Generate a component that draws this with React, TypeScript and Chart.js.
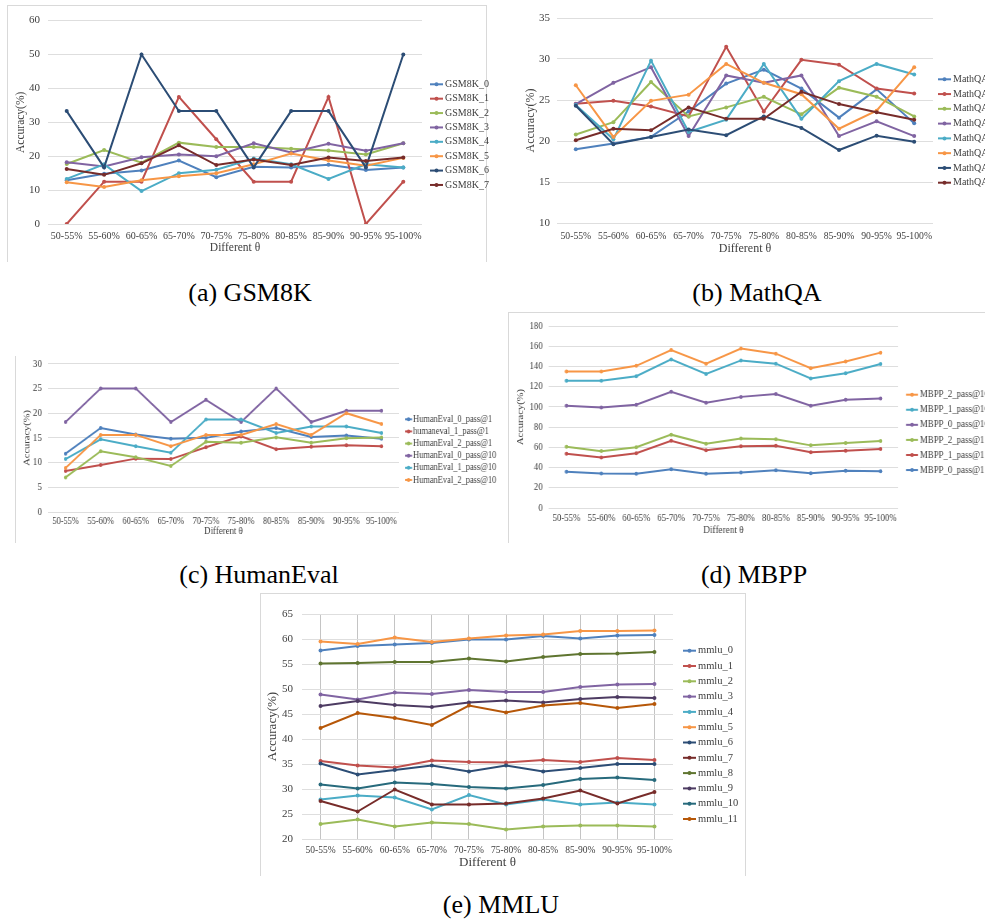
import React, { useEffect, useRef } from 'react';
import { Chart, registerables } from 'chart.js';
Chart.register(...registerables);

const CATEGORIES = ['50-55%', '55-60%', '60-65%', '65-70%', '70-75%', '75-80%', '80-85%', '85-90%', '90-95%', '95-100%'];
const X_TITLE = 'Different θ';
const Y_TITLE = 'Accuracy(%)';

const COLORS = ['#4F81BD', '#C0504D', '#9BBB59', '#8064A2', '#4BACC6', '#F79646', '#2C4D75', '#772C2A', '#5F7530', '#4D3B62', '#276A7C', '#B65708'];

// (a) GSM8K
const GSM8K_LABELS = ['GSM8K_0', 'GSM8K_1', 'GSM8K_2', 'GSM8K_3', 'GSM8K_4', 'GSM8K_5', 'GSM8K_6', 'GSM8K_7'];
const GSM8K_0 = [12.9, 14.8, 15.8, 18.7, 13.8, 16.9, 16.7, 17.5, 15.9, 16.7];
const GSM8K_1 = [0, 12.5, 12.5, 37.5, 25, 12.5, 12.5, 37.5, 0, 12.5];
const GSM8K_2 = [17.7, 21.8, 18.1, 24.0, 22.7, 22.7, 22.2, 21.7, 20.5, 23.8];
const GSM8K_3 = [18.2, 17.0, 19.7, 20.5, 20.0, 23.8, 21.1, 23.7, 21.6, 23.8];
const GSM8K_4 = [13.3, 17.6, 9.7, 15.0, 16.0, 19.3, 17.6, 13.3, 17.6, 16.7];
const GSM8K_5 = [12.3, 10.9, 12.9, 14.1, 15.0, 17.6, 20.8, 18.7, 17.2, 19.5];
const GSM8K_6 = [33.3, 16.7, 50, 33.3, 33.3, 16.7, 33.3, 33.3, 16.7, 50];
const GSM8K_7 = [16.2, 14.5, 17.9, 23.2, 17.4, 19.0, 17.4, 19.6, 18.6, 19.6];
const GSM8K_TICKS = [0, 60, 10];

// (b) MathQA
const MATHQA_LABELS = ['MathQA_0', 'MathQA_1', 'MathQA_2', 'MathQA_3', 'MathQA_4', 'MathQA_5', 'MathQA_6', 'MathQA_7'];
const MATHQA_0 = [19.0, 19.7, 20.5, 23.6, 27.0, 28.7, 26.4, 22.85, 26.3, 22.15];
const MATHQA_1 = [24.55, 24.9, 24.2, 23.0, 31.5, 23.6, 29.9, 29.3, 26.4, 25.8];
const MATHQA_2 = [20.8, 22.3, 27.2, 23.0, 24.1, 25.4, 23.25, 26.5, 25.4, 23.0];
const MATHQA_3 = [24.5, 27.1, 29.0, 20.6, 28.0, 27.1, 28.0, 20.6, 22.4, 20.6];
const MATHQA_4 = [24.4, 20.2, 29.8, 21.1, 22.6, 29.4, 22.7, 27.3, 29.4, 28.1];
const MATHQA_5 = [26.8, 20.5, 24.9, 25.65, 29.4, 27.1, 25.7, 21.5, 23.7, 29.0];
const MATHQA_6 = [24.3, 19.6, 20.5, 21.4, 20.7, 23.0, 21.6, 18.9, 20.65, 19.9];
const MATHQA_7 = [20.1, 21.5, 21.3, 24.1, 22.7, 22.7, 26.0, 24.5, 23.5, 22.6];
const MATHQA_TICKS = [10, 35, 5];

// (c) HumanEval
const HUMANEVAL_LABELS = ['HumanEval_0_pass@1', 'humaneval_1_pass@1', 'HumanEval_2_pass@1', 'HumanEval_0_pass@10', 'HumanEval_1_pass@10', 'HumanEval_2_pass@10'];
const HE_0_P1 = [11.8, 17.0, 15.7, 14.8, 15.0, 16.3, 17.0, 15.2, 15.5, 14.8];
const HE_1_P1 = [8.3, 9.5, 10.8, 10.7, 13.1, 15.3, 12.7, 13.2, 13.5, 13.3];
const HE_2_P1 = [7.0, 12.3, 11.1, 9.3, 14.2, 14.0, 15.1, 14.0, 14.9, 15.1];
const HE_0_P10 = [18.2, 25, 25, 18.2, 22.7, 18.2, 25, 18.2, 20.5, 20.5];
const HE_1_P10 = [10.7, 14.7, 13.3, 12.0, 18.7, 18.7, 16.0, 17.3, 17.3, 16.0];
const HE_2_P10 = [8.9, 15.6, 15.6, 13.3, 15.6, 15.6, 17.8, 15.6, 20.0, 17.8];
const HUMANEVAL_TICKS = [0, 30, 5];

// (d) MBPP (legend order as in the figure)
const MBPP_LABELS = ['MBPP_2_pass@10', 'MBPP_1_pass@10', 'MBPP_0_pass@10', 'MBPP_2_pass@1', 'MBPP_1_pass@1', 'MBPP_0_pass@1'];
const MBPP_2_P10 = [135.2, 135.2, 140.7, 156.3, 142.9, 157.9, 152.8, 138.4, 145.1, 153.8];
const MBPP_1_P10 = [126, 126, 130.4, 147.1, 132.7, 146.1, 142.9, 128.2, 133.3, 142.6];
const MBPP_0_P10 = [101.3, 99.4, 102.3, 115.1, 104.2, 110, 112.9, 101.3, 107.1, 108.4];
const MBPP_2_P1 = [60.7, 56.3, 60.1, 72.6, 63.6, 68.7, 68.1, 62.0, 64.3, 66.2];
const MBPP_1_P1 = [53.7, 49.9, 54.3, 66.5, 57.2, 61.1, 61.7, 55.3, 56.6, 58.5];
const MBPP_0_P1 = [35.8, 34.2, 33.9, 38.4, 33.9, 35.2, 37.4, 34.5, 36.8, 36.4];
const MBPP_TICKS = [0, 180, 20];

// (e) MMLU
const MMLU_LABELS = ['mmlu_0', 'mmlu_1', 'mmlu_2', 'mmlu_3', 'mmlu_4', 'mmlu_5', 'mmlu_6', 'mmlu_7', 'mmlu_8', 'mmlu_9', 'mmlu_10', 'mmlu_11'];
const MMLU_0 = [57.7, 58.6, 58.9, 59.2, 59.9, 59.9, 60.6, 60.1, 60.7, 60.8];
const MMLU_1 = [35.6, 34.7, 34.3, 35.7, 35.4, 35.3, 35.8, 35.4, 36.2, 35.8];
const MMLU_2 = [23.0, 23.9, 22.5, 23.3, 23.0, 21.9, 22.5, 22.7, 22.7, 22.5];
const MMLU_3 = [48.9, 47.9, 49.3, 49.0, 49.8, 49.4, 49.4, 50.4, 50.9, 51.0];
const MMLU_4 = [27.9, 28.7, 28.3, 25.9, 28.8, 26.9, 27.9, 26.9, 27.3, 26.9];
const MMLU_5 = [59.5, 59.0, 60.3, 59.4, 60.1, 60.7, 60.9, 61.6, 61.6, 61.7];
const MMLU_6 = [35.1, 32.9, 33.8, 34.7, 33.5, 34.7, 33.5, 34.2, 35.0, 35.0];
const MMLU_7 = [27.6, 25.5, 29.9, 26.9, 26.9, 27.1, 28.1, 29.7, 27.1, 29.4];
const MMLU_8 = [55.1, 55.2, 55.4, 55.4, 56.1, 55.5, 56.4, 57.0, 57.1, 57.4];
const MMLU_9 = [46.6, 47.6, 46.8, 46.4, 47.3, 47.7, 47.3, 48.0, 48.4, 48.2];
const MMLU_10 = [30.9, 30.1, 31.3, 31.0, 30.4, 30.1, 30.8, 32.0, 32.3, 31.8];
const MMLU_11 = [42.2, 45.2, 44.2, 42.8, 46.7, 45.3, 46.7, 47.2, 46.2, 47.0];
const MMLU_TICKS = [20, 65, 5];

const FAMILY = "'Liberation Serif', 'DejaVu Serif', serif";
const TEXT = '#404040';

type Series = { label: string; data: number[]; color: string };
type Spec = {
  left: number; top: number; width: number; height: number; k: number;
  plot: number[]; // l, t, r, b (page px)
  y: number[];
  yTitleX: number; yTickRight: number; xTickY: number; xTitleY: number;
  font: { xt: number; yt: number; title: number; legend: number };
  legend: { x1: number; x2: number; tx: number; y0: number; dy: number };
  vGrid?: boolean;
  series: Series[];
};

function mk(labels: string[], arrays: number[][], colors: string[]): Series[] {
  return labels.map((l, i) => ({ label: l, data: arrays[i], color: colors[i] }));
}

function Panel({ spec }: { spec: Spec }) {
  const ref = useRef<HTMLCanvasElement>(null);
  const W = Math.round(spec.width / spec.k);
  const H = spec.height;
  useEffect(() => {
    const s = spec;
    const k = spec.width / W;
    const lx = (px: number) => (px - s.left) / k;
    const ly = (py: number) => py - s.top;
    const [pl, pt, pr, pb] = s.plot;
    const L = lx(pl), R = lx(pr), T = ly(pt), B = ly(pb);
    const tlh = s.font.title * 1.2;
    const padL = lx(s.yTitleX) - tlh / 2;
    const yW = L - padL;
    const xH = ly(s.xTitleY) - B + tlh / 2;
    const padB = H - B - xH;
    const xTickPad = ly(s.xTickY) - B - s.font.xt * 0.6;
    const yTickPad = L - lx(s.yTickRight);
    const n = s.series.length;
    const legendPlugin = {
      id: 'customLegend',
      afterDraw(chart: any) {
        const ctx = chart.ctx;
        ctx.save();
        ctx.font = `${s.font.legend}px ${FAMILY}`;
        ctx.textBaseline = 'middle';
        ctx.textAlign = 'left';
        s.series.forEach((se, i) => {
          const y = ly(s.legend.y0 + i * s.legend.dy);
          const x1 = lx(s.legend.x1), x2 = lx(s.legend.x2);
          ctx.strokeStyle = se.color;
          ctx.lineWidth = 2;
          ctx.beginPath(); ctx.moveTo(x1, y); ctx.lineTo(x2, y); ctx.stroke();
          ctx.fillStyle = se.color;
          ctx.beginPath(); ctx.arc((x1 + x2) / 2, y, 2, 0, Math.PI * 2); ctx.fill();
          ctx.fillStyle = TEXT;
          ctx.fillText(se.label, lx(s.legend.tx), y);
        });
        ctx.restore();
      },
    };
    const chart = new Chart(ref.current as HTMLCanvasElement, {
      type: 'line',
      data: {
        labels: CATEGORIES,
        datasets: s.series.map((se, i) => ({
          label: se.label, data: se.data, borderColor: se.color, backgroundColor: se.color,
          borderWidth: 2, pointRadius: 2, pointHoverRadius: 2, pointBorderWidth: 0,
          tension: 0, fill: false, order: n - i,
        })),
      },
      options: {
        responsive: false, animation: false, devicePixelRatio: 1,
        layout: { padding: { left: padL, top: T, right: W - R, bottom: padB } },
        plugins: { legend: { display: false }, tooltip: { enabled: false } },
        scales: {
          x: {
            type: 'category', offset: true,
            grid: { display: !!s.vGrid, offset: false, drawTicks: false, color: '#c4c4c4', lineWidth: 1 },
            border: { display: false },
            ticks: { padding: xTickPad, font: { family: FAMILY, size: s.font.xt }, color: TEXT, maxRotation: 0, autoSkip: false },
            title: { display: true, text: X_TITLE, padding: 0, font: { family: FAMILY, size: s.font.title }, color: TEXT },
            afterFit: (sc: any) => { sc.height = xH; sc.paddingLeft = 0; sc.paddingRight = 0; },
          },
          y: {
            min: s.y[0], max: s.y[1],
            ticks: { stepSize: s.y[2], padding: yTickPad, font: { family: FAMILY, size: s.font.yt }, color: TEXT },
            grid: { color: '#dedede', lineWidth: 1, drawTicks: false },
            border: { display: false },
            title: { display: true, text: Y_TITLE, padding: 0, font: { family: FAMILY, size: s.font.title }, color: TEXT },
            afterFit: (sc: any) => { sc.width = yW; },
          },
        },
      } as any,
      plugins: [legendPlugin],
    });
    return () => chart.destroy();
  }, []);
  return (
    <canvas
      ref={ref}
      width={W}
      height={H}
      style={{ position: 'absolute', left: spec.left, top: spec.top, width: spec.width, height: spec.height }}
    />
  );
}

const SPECS: Spec[] = [
  {
    left: 8, top: 6, width: 494, height: 255, k: 1,
    plot: [48, 15, 422, 224], y: GSM8K_TICKS,
    yTitleX: 21, yTickRight: 40, xTickY: 236, xTitleY: 248,
    font: { xt: 10, yt: 11, title: 11.5, legend: 10 },
    legend: { x1: 430, x2: 443, tx: 445, y0: 84.3, dy: 14.38 },
    series: mk(GSM8K_LABELS, [GSM8K_0, GSM8K_1, GSM8K_2, GSM8K_3, GSM8K_4, GSM8K_5, GSM8K_6, GSM8K_7], COLORS),
  },
  {
    left: 505, top: 4, width: 480, height: 258, k: 1,
    plot: [557, 18, 933, 223], y: MATHQA_TICKS,
    yTitleX: 530.5, yTickRight: 550, xTickY: 236, xTitleY: 248.5,
    font: { xt: 9.7, yt: 11, title: 12, legend: 10 },
    legend: { x1: 938, x2: 951, tx: 953, y0: 79.3, dy: 14.77 },
    series: mk(MATHQA_LABELS, [MATHQA_0, MATHQA_1, MATHQA_2, MATHQA_3, MATHQA_4, MATHQA_5, MATHQA_6, MATHQA_7], COLORS),
  },
  {
    left: 16, top: 350, width: 488, height: 192, k: 0.84,
    plot: [48, 363, 399, 512], y: HUMANEVAL_TICKS,
    yTitleX: 27.5, yTickRight: 42, xTickY: 521.7, xTitleY: 531.7,
    font: { xt: 10, yt: 11, title: 10.5, legend: 10 },
    legend: { x1: 405, x2: 412, tx: 413, y0: 419.3, dy: 12.13 },
    series: mk(HUMANEVAL_LABELS, [HE_0_P1, HE_1_P1, HE_2_P1, HE_0_P10, HE_1_P10, HE_2_P10], COLORS),
  },
  {
    left: 509, top: 313, width: 476, height: 229, k: 0.88,
    plot: [549, 320, 898, 508], y: MBPP_TICKS,
    yTitleX: 521, yTickRight: 542.7, xTickY: 518.3, xTitleY: 530.7,
    font: { xt: 10, yt: 10, title: 10.5, legend: 10 },
    legend: { x1: 906, x2: 918, tx: 920, y0: 394.7, dy: 15.07 },
    series: mk(MBPP_LABELS, [MBPP_2_P10, MBPP_1_P10, MBPP_0_P10, MBPP_2_P1, MBPP_1_P1, MBPP_0_P1],
      [COLORS[5], COLORS[4], COLORS[3], COLORS[2], COLORS[1], COLORS[0]]),
  },
  {
    left: 261, top: 594, width: 482, height: 281, k: 1,
    plot: [302, 614, 673, 839], y: MMLU_TICKS,
    yTitleX: 272.5, yTickRight: 293, xTickY: 850, xTitleY: 863,
    font: { xt: 9.5, yt: 11, title: 13, legend: 10.5 },
    legend: { x1: 683, x2: 696, tx: 698, y0: 650.7, dy: 15.3 },
    vGrid: true,
    series: mk(MMLU_LABELS, [MMLU_0, MMLU_1, MMLU_2, MMLU_3, MMLU_4, MMLU_5, MMLU_6, MMLU_7, MMLU_8, MMLU_9, MMLU_10, MMLU_11], COLORS),
  },
];

const CAPTIONS = [
  { text: '(a) GSM8K', x: 250, y: 293 },
  { text: '(b) MathQA', x: 757, y: 293 },
  { text: '(c) HumanEval', x: 259, y: 575 },
  { text: '(d) MBPP', x: 754, y: 575 },
  { text: '(e) MMLU', x: 501, y: 905 },
];

const LINE = '#d9d9d9';
const RULES = [
  { l: 7, t: 5, w: 480, h: 1 }, { l: 7, t: 5, w: 1, h: 257 }, { l: 486, t: 5, w: 1, h: 257 },
  { l: 15, t: 356, w: 1, h: 187 },
  { l: 508, t: 312, w: 477, h: 1 }, { l: 508, t: 312, w: 1, h: 231 },
  { l: 260, t: 593, w: 486, h: 1 }, { l: 260, t: 593, w: 1, h: 283 }, { l: 745, t: 593, w: 1, h: 283 },
];

export default function App() {
  return (
    <div style={{ position: 'absolute', left: 0, top: 0, width: 985, height: 920, overflow: 'hidden', background: '#fff' }}>
      {RULES.map((r, i) => (
        <div key={'r' + i} style={{ position: 'absolute', left: r.l, top: r.t, width: r.w, height: r.h, background: LINE }} />
      ))}
      {SPECS.map((s, i) => <Panel key={i} spec={s} />)}
      {CAPTIONS.map((c, i) => (
        <div
          key={'c' + i}
          style={{
            position: 'absolute', left: c.x, top: c.y, transform: 'translate(-50%, -50%)',
            fontFamily: FAMILY, fontSize: 26, color: '#000', whiteSpace: 'nowrap', lineHeight: 1,
          }}
        >
          {c.text}
        </div>
      ))}
    </div>
  );
}
